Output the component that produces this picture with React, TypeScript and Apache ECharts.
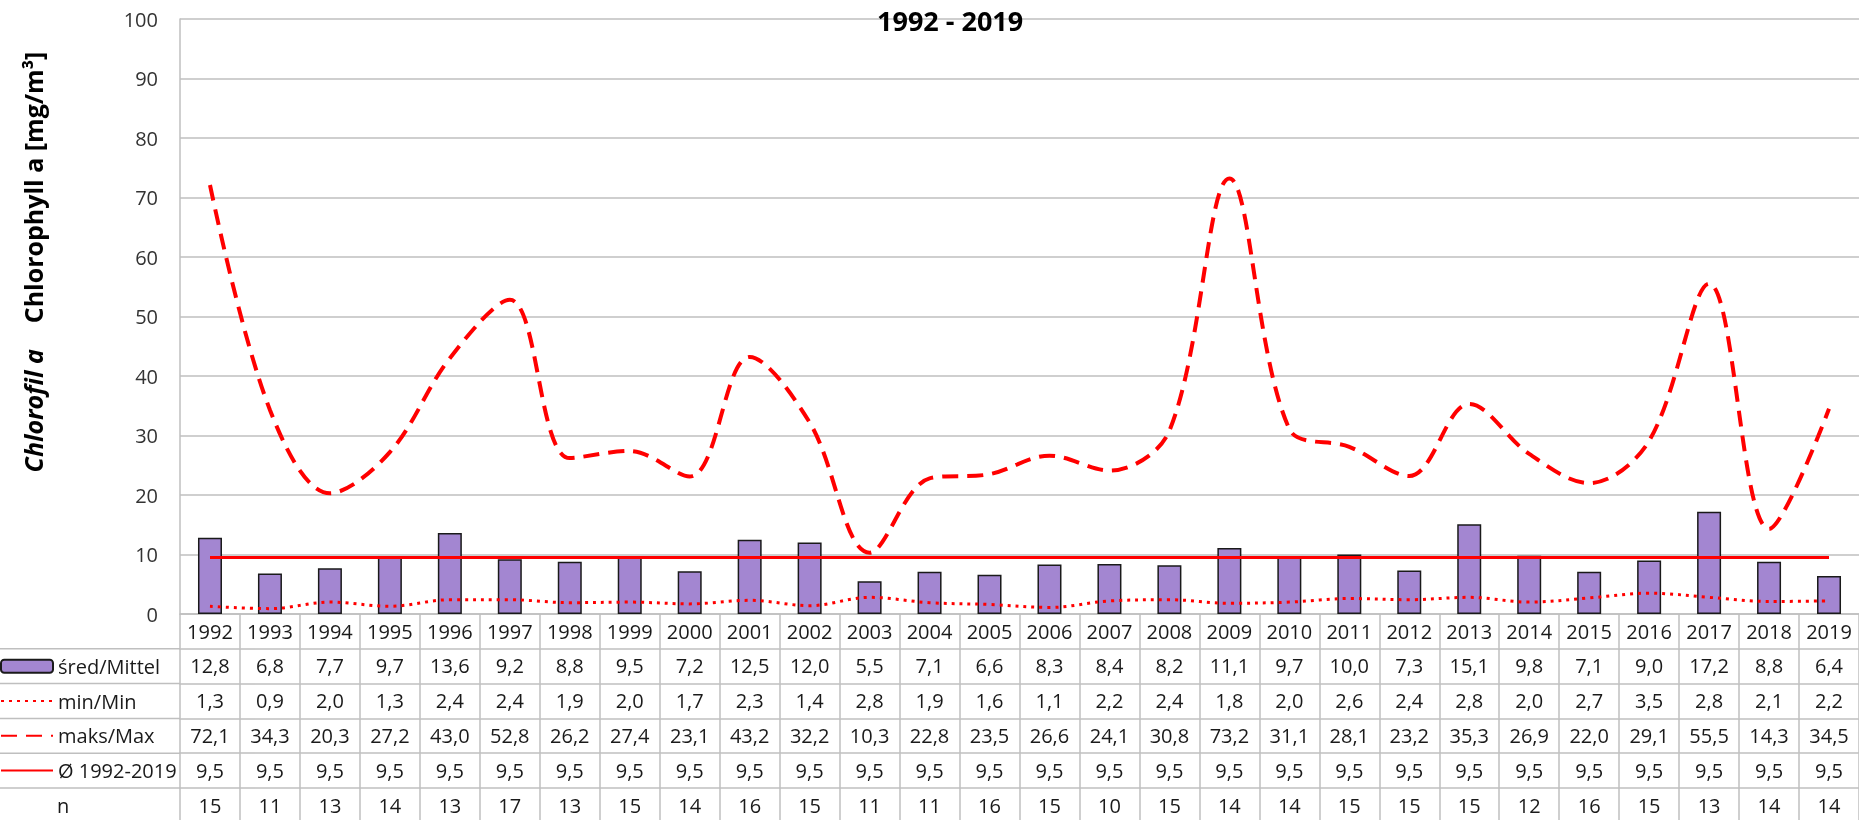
import React, { useEffect, useRef } from "react";
import * as echarts from "echarts";

const years = ["1992","1993","1994","1995","1996","1997","1998","1999","2000","2001","2002","2003","2004","2005","2006","2007","2008","2009","2010","2011","2012","2013","2014","2015","2016","2017","2018","2019"];
const meanVals = [12.8,6.8,7.7,9.7,13.6,9.2,8.8,9.5,7.2,12.5,12.0,5.5,7.1,6.6,8.3,8.4,8.2,11.1,9.7,10.0,7.3,15.1,9.8,7.1,9.0,17.2,8.8,6.4];
const minVals = [1.3,0.9,2.0,1.3,2.4,2.4,1.9,2.0,1.7,2.3,1.4,2.8,1.9,1.6,1.1,2.2,2.4,1.8,2.0,2.6,2.4,2.8,2.0,2.7,3.5,2.8,2.1,2.2];
const maxVals = [72.1,34.3,20.3,27.2,43.0,52.8,26.2,27.4,23.1,43.2,32.2,10.3,22.8,23.5,26.6,24.1,30.8,73.2,31.1,28.1,23.2,35.3,26.9,22.0,29.1,55.5,14.3,34.5];
const avgVals = [9.5,9.5,9.5,9.5,9.5,9.5,9.5,9.5,9.5,9.5,9.5,9.5,9.5,9.5,9.5,9.5,9.5,9.5,9.5,9.5,9.5,9.5,9.5,9.5,9.5,9.5,9.5,9.5];
const nVals = [15,11,13,14,13,17,13,15,14,16,15,11,11,16,15,10,15,14,14,15,15,15,12,16,15,13,14,14];
const seriesNames = ["śred/Mittel", "min/Min", "maks/Max", "Ø 1992-2019"];
const yTicks = { min: 0, max: 100, interval: 10 };

const FONT = "Open Sans";
const GRID = "#BFBFBF";
const ROW_H = 34.8;
const PLOT_BOTTOM = 614;
const TXT = "#1a1a1a";
const BAR_COLOR = "#A386D1";

const fmt = (v: number) => v.toFixed(1).replace(".", ",");

export default function App() {
  const ref = useRef<HTMLDivElement>(null);
  useEffect(() => {
    const chart = echarts.init(ref.current!, null, { renderer: "svg" });
    const rows: string[][] = [
      meanVals.map(fmt),
      minVals.map(fmt),
      maxVals.map(fmt),
      avgVals.map(fmt),
      nVals.map((v) => String(v)),
    ];
    const baseAxis = (k: number) => ({
      type: "category",
      data: years,
      position: "bottom",
      gridIndex: 0,
      offset: k * ROW_H,
      boundaryGap: true,
      axisLine: { show: true, lineStyle: { color: GRID, width: 1.5 } },
      axisTick: { show: true, length: ROW_H, interval: 0, lineStyle: { color: GRID, width: 1.5 } },
      splitLine: { show: false },
      axisLabel: {
        interval: 0,
        margin: 7,
        fontSize: 20,
        lineHeight: 20,
        fontFamily: FONT,
        color: TXT,
        formatter: k === 0 ? undefined : (_v: string, i: number) => rows[k - 1][i],
      },
    });
    const legendRows = seriesNames.map((name, i) => {
      const lg: any = {
        data: [name],
        left: 0,
        top: PLOT_BOTTOM + ROW_H * (i + 1) + ROW_H / 2 - 11,
        orient: "horizontal",
        itemWidth: 52,
        itemHeight: 13,
        itemGap: 5,
        selectedMode: false,
        padding: 0,
        textStyle: { fontSize: 20, lineHeight: 22, fontFamily: FONT, color: TXT, padding: [0, 0, 0, 0] },
      };
      if (i === 0) {
        lg.itemStyle = { color: BAR_COLOR, borderColor: "#1a1a1a", borderWidth: 2 };
      } else {
        lg.itemStyle = { opacity: 0 };
      }
      return lg;
    });
    const hLines = [1, 2, 3, 4, 5].map((k) => ({
      type: "line",
      shape: { x1: 0, y1: PLOT_BOTTOM + k * ROW_H, x2: 180, y2: PLOT_BOTTOM + k * ROW_H },
      style: { stroke: GRID, lineWidth: 1.5 },
    }));
    chart.setOption({
      animation: false,
      textStyle: { fontFamily: FONT },
      title: {
        text: "1992 - 2019",
        left: 872,
        top: 2,
        textStyle: { fontSize: 27, fontWeight: "bold", color: "#000", fontFamily: FONT },
      },
      grid: { left: 180, right: 0, top: 19, bottom: 820 - PLOT_BOTTOM, containLabel: false },
      legend: legendRows,
      xAxis: [0, 1, 2, 3, 4, 5].map(baseAxis),
      yAxis: {
        type: "value",
        min: yTicks.min,
        max: yTicks.max,
        interval: yTicks.interval,
        axisLine: { show: true, lineStyle: { color: GRID, width: 1.5 } },
        axisTick: { show: false },
        splitLine: { show: true, lineStyle: { color: GRID, width: 1.5 } },
        axisLabel: { fontSize: 20, fontFamily: FONT, color: "#333", margin: 22 },
      },
      graphic: [
        ...hLines,
        {
          type: "text",
          x: 57,
          y: PLOT_BOTTOM + 5.5 * ROW_H,
          style: { text: "n", fontSize: 20, fontFamily: FONT, fill: TXT, verticalAlign: "middle", align: "left" },
        },
        {
          type: "text",
          x: 33,
          y: 262,
          rotation: Math.PI / 2,
          style: {
            text: "{i|Chlorofil a}    {b|Chlorophyll a [mg/m³]}",
            align: "center",
            verticalAlign: "middle",
            fill: "#000",
            rich: {
              i: { fontSize: 25, fontWeight: "bold", fontStyle: "italic", fontFamily: FONT, fill: "#000" },
              b: { fontSize: 25, fontWeight: "bold", fontFamily: FONT, fill: "#000" },
            },
            fontSize: 25,
            fontWeight: "bold",
            fontFamily: FONT,
          },
        },
      ],
      series: [
        {
          name: seriesNames[0],
          type: "bar",
          data: meanVals,
          barWidth: 24,
          itemStyle: { color: BAR_COLOR, borderColor: "#1a1a1a", borderWidth: 1.5 },
          z: 1,
        },
        {
          name: seriesNames[1],
          type: "line",
          data: minVals,
          smooth: 0.35,
          symbol: "none",
          lineStyle: { color: "#FF0000", width: 3, type: [3, 5] },
          itemStyle: { color: "#FF0000" },
          z: 3,
        },
        {
          name: seriesNames[2],
          type: "line",
          data: maxVals,
          smooth: 0.35,
          symbol: "none",
          lineStyle: { color: "#FF0000", width: 4, type: [16, 9] },
          itemStyle: { color: "#FF0000" },
          z: 3,
        },
        {
          name: seriesNames[3],
          type: "line",
          data: avgVals,
          symbol: "none",
          lineStyle: { color: "#FF0000", width: 3 },
          itemStyle: { color: "#FF0000" },
          z: 3,
        },
      ],
    });
    return () => chart.dispose();
  }, []);
  return <div ref={ref} style={{ position: "fixed", left: 0, top: 0, width: 1859, height: 820 }} />;
}
